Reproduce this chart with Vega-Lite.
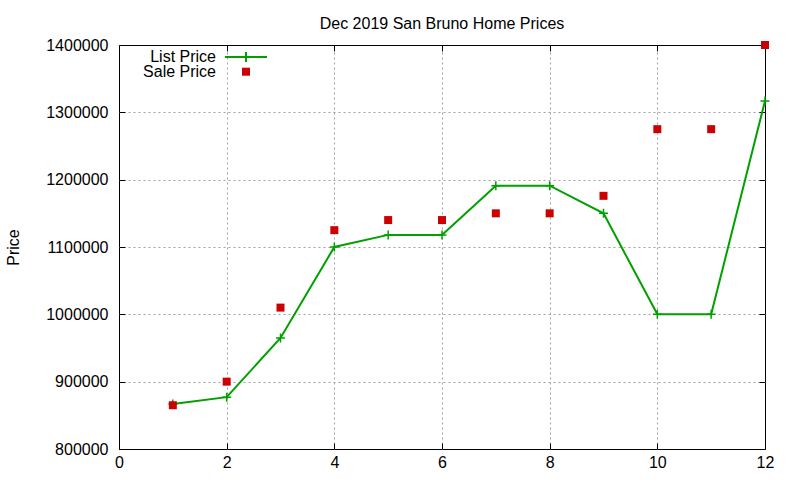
{
  "$schema": "https://vega.github.io/schema/vega-lite/v6.json",
  "width": 646,
  "height": 404,
  "autosize": "none",
  "padding": {"left": 119, "top": 45, "right": 35, "bottom": 31},
  "background": "white",
  "title": {
    "text": "Dec 2019 San Bruno Home Prices",
    "fontSize": 16,
    "fontWeight": "normal",
    "color": "black",
    "baseline": "alphabetic",
    "anchor": "middle",
    "offset": 13,
    "dy": 23
  },
  "data": {
    "values": [
      {"x": 1, "list": 867000, "sale": 865000},
      {"x": 2, "list": 877000, "sale": 900000},
      {"x": 3, "list": 965000, "sale": 1010000},
      {"x": 4, "list": 1100000, "sale": 1125000},
      {"x": 5, "list": 1118000, "sale": 1140000},
      {"x": 6, "list": 1118000, "sale": 1140000},
      {"x": 7, "list": 1191000, "sale": 1150000},
      {"x": 8, "list": 1191000, "sale": 1150000},
      {"x": 9, "list": 1150000, "sale": 1176000},
      {"x": 10, "list": 1000000, "sale": 1275000},
      {"x": 11, "list": 1000000, "sale": 1275000},
      {"x": 12, "list": 1317000, "sale": 1400000}
    ]
  },
  "layer": [
    {
      "mark": {
        "type": "line",
        "strokeWidth": 2,
        "point": {"shape": "M-1,0H1M0,-1V1", "filled": false, "size": 81, "strokeWidth": 1.5}
      },
      "encoding": {
        "x": {
          "field": "x",
          "type": "quantitative",
          "scale": {"domain": [0, 12], "nice": false, "zero": false},
          "axis": {"orient": "bottom", "values": [0, 2, 4, 6, 8, 10, 12], "title": null, "labelPadding": 11, "grid": false}
        },
        "y": {
          "field": "list",
          "type": "quantitative",
          "scale": {"domain": [800000, 1400000], "nice": false, "zero": false},
          "axis": {
            "orient": "left",
            "values": [800000, 900000, 1000000, 1100000, 1200000, 1300000, 1400000],
            "format": "d",
            "title": "Price",
            "titlePadding": 24,
            "labelPadding": 17,
            "grid": false
          }
        },
        "stroke": {
          "datum": "List Price",
          "type": "nominal",
          "scale": {"range": ["#00a000"]},
          "legend": {
            "orient": "none",
            "legendX": 105,
            "legendY": -10,
            "title": null,
            "padding": 0,
            "symbolType": "M-1,0H1M0,-0.24V0.24",
            "symbolSize": 1764,
            "symbolStrokeWidth": 2,
            "symbolStrokeColor": "#00a000",
            "symbolFillColor": "transparent",
            "symbolOpacity": 1,
            "labelAlign": "right",
            "labelOffset": -52
          }
        }
      }
    },
    {
      "mark": {"type": "point", "shape": "square", "filled": true, "size": 64, "opacity": 1},
      "encoding": {
        "x": {
          "field": "x",
          "type": "quantitative",
          "axis": {"orient": "top", "values": [2, 4, 6, 8, 10], "labels": false, "grid": true, "title": null}
        },
        "y": {
          "field": "sale",
          "type": "quantitative",
          "axis": {
            "orient": "right",
            "values": [900000, 1000000, 1100000, 1200000, 1300000],
            "labels": false,
            "grid": true,
            "title": null
          }
        },
        "fill": {
          "datum": "Sale Price",
          "type": "nominal",
          "scale": {"range": ["#cc0000"]},
          "legend": {
            "orient": "none",
            "legendX": 119,
            "legendY": 18.7,
            "title": null,
            "padding": 0,
            "symbolType": "square",
            "symbolSize": 64,
            "symbolFillColor": "#cc0000",
            "symbolStrokeWidth": 0,
            "symbolOpacity": 1,
            "labelAlign": "right",
            "labelOffset": -38
          }
        }
      }
    }
  ],
  "resolve": {"axis": {"x": "independent", "y": "independent"}},
  "config": {
    "font": "Liberation Sans",
    "view": {"stroke": "black", "strokeWidth": 1},
    "axis": {
      "domain": false,
      "labelFlush": false,
      "tickSize": -6,
      "tickColor": "black",
      "tickWidth": 1,
      "labelFontSize": 16,
      "labelColor": "black",
      "labelFont": "Liberation Sans",
      "titleFontSize": 16,
      "titleFontWeight": "normal",
      "titleColor": "black",
      "titleFont": "Liberation Sans",
      "gridColor": "#a0a0a0",
      "gridDash": [2, 3],
      "gridWidth": 1,
      "gridOpacity": 1
    },
    "legend": {
      "labelFontSize": 16,
      "labelColor": "black",
      "labelFont": "Liberation Sans",
      "labelLimit": 300
    }
  }
}
